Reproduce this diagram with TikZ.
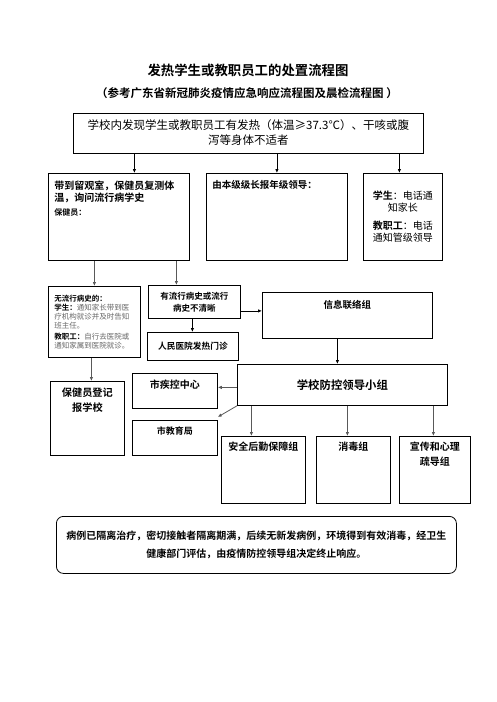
\documentclass[tikz,border=0pt]{standalone}
\usepackage{fontspec}
\setmainfont{Noto Sans CJK SC}[BoldFont={Noto Sans CJK SC Bold}]
\usetikzlibrary{arrows.meta,positioning}
% box text of a fixed size: [valign]{width}{height}{text}
\newcommand{\boxcell}[4][t]{\parbox[t][\dimexpr#3-12pt\relax][#1]{\dimexpr#2-12pt\relax}{#4}}
\newcommand{\fsz}[2]{\fontsize{#1}{#2}\selectfont}
\tikzset{
  box/.style={draw, line width=0.8pt, anchor=north west, inner sep=6pt},
  arr/.style={-{Latex[length=4pt,width=3.5pt]}, line width=0.8pt},
  soft/.style={black!65},
}
\begin{document}
\begin{tikzpicture}[x=1pt,y=-1pt]
\useasboundingbox (0,0) rectangle (496,702);
% titles
\node (title) at (248,70) {\fsz{13.4}{16}\bfseries 发热学生或教职员工的处置流程图};
\node (subtitle) at (247,93) {\fsz{11.5}{14}\bfseries （参考广东省新冠肺炎疫情应急响应流程图及晨检流程图 ）};
% first and second rows
\node[box] (top) at (73,113) {\boxcell{350pt}{40pt}{\centering\fsz{11.5}{15}学校内发现学生或教职员工有发热（体温≥37.3℃）、干咳或腹\\泻等身体不适者}};
\node[box] (care) at (48,173) {\boxcell{141pt}{87pt}{\raggedright\fsz{10}{12.5}\bfseries\vspace*{1pt}带到留观室，保健员复测体\\温，询问流行病学史\\[1pt]{\fsz{8}{10}保健员：}}};
\node[box] (grade) at (206,173) {\boxcell{141pt}{87pt}{\raggedright\fsz{9.5}{12}\bfseries\vspace*{1pt}由本级级长报年级领导：}};
\node[box] (notify) at (363,173) {\boxcell[c]{79pt}{87pt}{\centering\fsz{10}{12}\textbf{学生}：电话通\\知家长\\[6pt]\textbf{教职工}：电话\\通知管级领导}};
% third row
\node[box] (nohist) at (48,286) {\boxcell[c]{92pt}{71pt}{\raggedright\fsz{7.5}{9.2}\textbf{无流行病史的：}\\\textbf{学生：}{\color{black!60}通知家长带到医\\疗机构就诊并及时告知\\班主任。}\\[1.5pt]\textbf{教职工：}{\color{black!60}自行去医院或\\通知家属到医院就诊。}}};
\node[box] (hist) at (148,285) {\boxcell[c]{92pt}{33pt}{\centering\fsz{8.5}{12}\bfseries 有流行病史或流行\\病史不清晰}};
\node[box] (hosp) at (147,332) {\boxcell[c]{91pt}{28pt}{\centering\fsz{8.7}{11}\bfseries 人民医院发热门诊}};
\node[box] (info) at (262,292) {\boxcell{170pt}{46pt}{\centering\fsz{9.5}{12}\bfseries\vspace*{2pt}信息联络组}};
\node[box] (lead) at (237,364) {\boxcell[c]{210pt}{41pt}{\centering\fsz{11.4}{14}\bfseries 学校防控领导小组}};
% lower rows
\node[box] (register) at (50,381) {\boxcell{74pt}{74pt}{\centering\fsz{10.2}{15}\bfseries 保健员登记\\报学校}};
\node[box] (cdc) at (132,373) {\boxcell{85pt}{35pt}{\centering\fsz{10}{12}\bfseries 市疾控中心}};
\node[box] (edu) at (132,420) {\boxcell{85pt}{35pt}{\centering\fsz{9}{12}\bfseries 市教育局}};
\node[box] (logi) at (221,436) {\boxcell{84pt}{67pt}{\centering\fsz{10}{15}\bfseries 安全后勤保障组}};
\node[box] (disinf) at (316,436) {\boxcell{74pt}{67pt}{\centering\fsz{10}{15}\bfseries 消毒组}};
\node[box] (psych) at (399,436) {\boxcell{71pt}{67pt}{\centering\fsz{10}{15}\bfseries 宣传和心理\\疏导组}};
\node[box, rounded corners=7pt] (final) at (56,516) {\boxcell[c]{400pt}{57pt}{\centering\fsz{10}{18}\bfseries 病例已隔离治疗，密切接触者隔离期满，后续无新发病例，环境得到有效消毒，经卫生\\健康部门评估，由疫情防控领导组决定终止响应。}};
% connectors
\draw[arr] ([xshift=15.5pt]care.north |- top.south) -- ([xshift=15.5pt]care.north);
\draw[arr] (grade.north |- top.south) -- (grade.north);
\draw[arr] ([xshift=-3.5pt]notify.north |- top.south) -- ([xshift=-3.5pt]notify.north);
\draw[arr, soft] (nohist.north |- care.south) -- (nohist.north);
\draw[arr, soft] ([xshift=-18pt]hist.north |- care.south) -- ([xshift=-18pt]hist.north);
\draw[arr] ([xshift=-2pt]hist.south) -- ([xshift=-2pt]hist.south |- hosp.north);
\draw[arr] ([yshift=-9pt]hist.east) -- ([yshift=-9pt]hist.east -| info.west);
\draw[arr, soft] ([xshift=-3pt]nohist.south) -- ([xshift=-3pt]nohist.south |- register.north);
\draw[arr] ([xshift=-10pt]info.south) -- ([xshift=-10pt]info.south |- lead.north);
\draw[arr, soft] ([yshift=-2.5pt]lead.west) -- ([yshift=-2.5pt]lead.west -| cdc.east);
\draw[arr, soft] (lead.south west) -- ([yshift=3pt]edu.north east);
\draw[arr, soft] ([xshift=-12pt]logi.north |- lead.south) -- ([xshift=-12pt]logi.north);
\draw[arr, soft] ([xshift=-6pt]disinf.north |- lead.south) -- ([xshift=-6pt]disinf.north);
\draw[arr, soft] ([xshift=-1.5pt]psych.north |- lead.south) -- ([xshift=-1.5pt]psych.north);
\end{tikzpicture}
\end{document}
